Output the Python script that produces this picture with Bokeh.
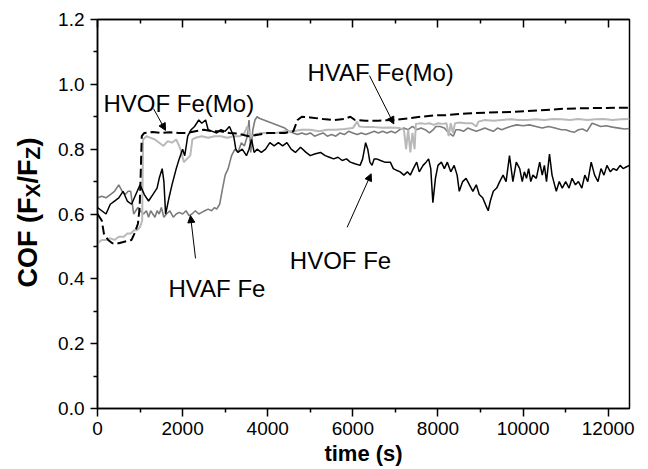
import numpy as np
from bokeh.plotting import figure
from bokeh.layouts import row
from bokeh.core.properties import value
from bokeh.models import (Range1d, LinearAxis, FixedTicker, NumeralTickFormatter,
                          Label, Arrow, NormalHead, CustomJSTickFormatter)
from bokeh.embed import file_html
from bokeh.resources import INLINE

# ---------------- data ----------------
hvof_fe_t = [0, 100, 200, 300, 400, 500, 600, 700, 800, 900, 1000, 1100, 1200, 1300, 1400, 1450, 1520, 1560,
             1600, 1680, 1750, 1850, 1920, 2000, 2050, 2120, 2200, 2280, 2380, 2450, 2540, 2600, 2700, 2800,
             2900, 3000, 3100, 3200, 3250, 3300, 3400, 3500, 3560, 3620, 3680, 3750, 3850, 3950, 4050, 4150,
             4250, 4350, 4450, 4550, 4650, 4770, 4900, 5000, 5100, 5240, 5350, 5450, 5550, 5650, 5750, 5850,
             5940, 6050, 6170, 6230, 6300, 6350, 6400, 6450, 6500, 6560, 6650, 6750, 6880, 6950, 7040, 7110,
             7200, 7280, 7350, 7420, 7500, 7560, 7650, 7720, 7780, 7830, 7880, 7940, 8000, 8080, 8150, 8220,
             8300, 8380, 8450, 8500, 8580, 8660, 8740, 8820, 8900, 8970, 9050, 9130, 9180, 9230, 9300, 9380,
             9450, 9530, 9600, 9680, 9730, 9760, 9840, 9920, 9980, 10030, 10080, 10130, 10180, 10230, 10310,
             10390, 10450, 10500, 10550, 10620, 10680, 10740, 10780, 10850, 10920, 11000, 11080, 11150, 11230,
             11300, 11380, 11450, 11520, 11600, 11680, 11760, 11830, 11900, 11970, 12050, 12120, 12200, 12280,
             12350, 12420, 12500]
hvof_fe_cof = [0.62, 0.61, 0.60, 0.63, 0.64, 0.65, 0.67, 0.64, 0.63, 0.66, 0.69, 0.66, 0.64, 0.66, 0.68, 0.71,
               0.74, 0.70, 0.60, 0.65, 0.69, 0.74, 0.77, 0.80, 0.78, 0.84, 0.86, 0.87, 0.89, 0.88, 0.89, 0.86,
               0.855, 0.85, 0.86, 0.855, 0.87, 0.84, 0.80, 0.79, 0.80, 0.78, 0.80, 0.83, 0.79, 0.80, 0.79, 0.80,
               0.82, 0.81, 0.82, 0.81, 0.82, 0.80, 0.79, 0.806, 0.79, 0.78, 0.785, 0.79, 0.78, 0.775, 0.77,
               0.775, 0.765, 0.77, 0.76, 0.755, 0.75, 0.77, 0.82, 0.80, 0.76, 0.75, 0.77, 0.77, 0.765, 0.76,
               0.76, 0.74, 0.734, 0.73, 0.72, 0.73, 0.72, 0.74, 0.76, 0.73, 0.75, 0.76, 0.77, 0.74, 0.635, 0.71,
               0.75, 0.76, 0.74, 0.76, 0.73, 0.75, 0.72, 0.67, 0.70, 0.71, 0.69, 0.67, 0.69, 0.66, 0.65, 0.625,
               0.61, 0.64, 0.67, 0.68, 0.70, 0.72, 0.70, 0.78, 0.73, 0.70, 0.76, 0.74, 0.70, 0.73, 0.71, 0.74,
               0.70, 0.72, 0.71, 0.76, 0.72, 0.75, 0.70, 0.785, 0.72, 0.69, 0.67, 0.70, 0.68, 0.70, 0.68, 0.71,
               0.69, 0.70, 0.68, 0.72, 0.70, 0.76, 0.72, 0.70, 0.74, 0.72, 0.75, 0.73, 0.74, 0.735, 0.75, 0.74,
               0.745, 0.75]

hvof_femo_t = [0, 100, 150, 250, 350, 500, 650, 800, 870, 950, 990, 1010, 1040, 1100, 1300, 1500, 1700, 1900,
               2100, 2300, 2500, 2700, 2900, 3100, 3300, 3550, 3800, 4000, 4200, 4400, 4600, 4700, 4800, 5000,
               5300, 5550, 5800, 5940, 6050, 6300, 6600, 6950, 7300, 7600, 7890, 8200, 8670, 9200, 9770, 10400,
               11020, 11700, 12500]
hvof_femo_cof = [0.60, 0.58, 0.54, 0.52, 0.51, 0.51, 0.515, 0.52, 0.54, 0.57, 0.62, 0.70, 0.84, 0.85, 0.853,
                 0.85, 0.852, 0.85, 0.85, 0.855, 0.86, 0.855, 0.855, 0.85, 0.848, 0.84, 0.845, 0.85, 0.85, 0.85,
                 0.855, 0.89, 0.90, 0.898, 0.893, 0.89, 0.893, 0.90, 0.89, 0.888, 0.888, 0.89, 0.895, 0.90,
                 0.904, 0.905, 0.91, 0.913, 0.915, 0.92, 0.925, 0.927, 0.928]

hvaf_femo_t = [0, 100, 200, 300, 400, 500, 620, 700, 780, 860, 930, 1000, 1050, 1070, 1150, 1250, 1350, 1450,
               1550, 1650, 1750, 1850, 1950, 2030, 2100, 2180, 2230, 2300, 2450, 2600, 2750, 2900, 3050, 3200,
               3350, 3450, 3520, 3580, 3700, 3850, 4000, 4200, 4400, 4600, 4800, 5000, 5200, 5400, 5600, 5800,
               6000, 6100, 6150, 6300, 6500, 6700, 6900, 7100, 7200, 7250, 7300, 7350, 7400, 7450, 7480, 7600,
               7700, 7800, 7900, 8000, 8100, 8200, 8250, 8300, 8350, 8400, 8500, 8650, 8800, 8900, 8950, 9100,
               9300, 9500, 9700, 9900, 10100, 10300, 10500, 10700, 10900, 11100, 11300, 11500, 11700, 11900,
               12100, 12300, 12500]
hvaf_femo_cof = [0.51, 0.52, 0.52, 0.525, 0.52, 0.53, 0.53, 0.54, 0.54, 0.55, 0.55, 0.56, 0.58, 0.83, 0.84,
                 0.835, 0.83, 0.82, 0.81, 0.825, 0.82, 0.83, 0.80, 0.76, 0.77, 0.78, 0.83, 0.835, 0.84, 0.835,
                 0.84, 0.84, 0.835, 0.84, 0.84, 0.85, 0.87, 0.84, 0.845, 0.85, 0.85, 0.85, 0.855, 0.855, 0.86,
                 0.86, 0.855, 0.86, 0.86, 0.862, 0.865, 0.885, 0.87, 0.868, 0.868, 0.866, 0.867, 0.865, 0.86,
                 0.80, 0.86, 0.79, 0.85, 0.80, 0.878, 0.88, 0.878, 0.88, 0.875, 0.88, 0.878, 0.88, 0.84, 0.88,
                 0.85, 0.88, 0.882, 0.88, 0.88, 0.87, 0.885, 0.89, 0.888, 0.89, 0.892, 0.89, 0.89, 0.892, 0.89,
                 0.893, 0.892, 0.89, 0.893, 0.89, 0.892, 0.893, 0.89, 0.892, 0.893]

hvaf_fe_t = [0, 100, 200, 300, 400, 500, 580, 650, 720, 780, 820, 850, 900, 950, 1000, 1080, 1150, 1200, 1250,
             1300, 1350, 1400, 1450, 1500, 1560, 1620, 1700, 1780, 1850, 1920, 2000, 2080, 2150, 2220, 2300,
             2380, 2450, 2520, 2600, 2680, 2750, 2800, 2870, 2940, 3000, 3070, 3150, 3230, 3300, 3380, 3450,
             3520, 3560, 3600, 3650, 3700, 3750, 3800, 4000, 4200, 4400, 4500, 4600, 4700, 4800, 4900, 5000,
             5100, 5200, 5300, 5400, 5500, 5600, 5700, 5800, 5900, 6000, 6100, 6200, 6300, 6400, 6500, 6600,
             6700, 6800, 6900, 7000, 7100, 7200, 7300, 7400, 7500, 7600, 7700, 7800, 7890, 7950, 8050, 8150,
             8250, 8360, 8420, 8500, 8600, 8700, 8800, 8900, 9000, 9100, 9200, 9300, 9400, 9500, 9600, 9700,
             9850, 10000, 10150, 10300, 10450, 10600, 10750, 10900, 11000, 11100, 11200, 11300, 11400, 11500,
             11620, 11720, 11820, 11950, 12100, 12250, 12380, 12500]
hvaf_fe_cof = [0.65, 0.655, 0.65, 0.66, 0.67, 0.69, 0.67, 0.66, 0.67, 0.67, 0.63, 0.60, 0.61, 0.62, 0.61, 0.60,
               0.61, 0.59, 0.61, 0.60, 0.59, 0.61, 0.60, 0.62, 0.59, 0.60, 0.61, 0.59, 0.60, 0.605, 0.60, 0.61,
               0.595, 0.60, 0.61, 0.60, 0.605, 0.61, 0.615, 0.61, 0.62, 0.615, 0.63, 0.68, 0.72, 0.74, 0.78,
               0.80, 0.79, 0.82, 0.81, 0.84, 0.89, 0.79, 0.86, 0.89, 0.90, 0.895, 0.885, 0.875, 0.865, 0.855,
               0.85, 0.845, 0.85, 0.845, 0.85, 0.84, 0.845, 0.85, 0.84, 0.845, 0.84, 0.85, 0.845, 0.855, 0.85,
               0.845, 0.85, 0.845, 0.85, 0.855, 0.85, 0.855, 0.85, 0.855, 0.85, 0.86, 0.865, 0.86, 0.87, 0.86,
               0.865, 0.86, 0.85, 0.86, 0.87, 0.87, 0.865, 0.85, 0.84, 0.86, 0.86, 0.855, 0.865, 0.86, 0.855,
               0.86, 0.865, 0.86, 0.855, 0.865, 0.86, 0.865, 0.87, 0.875, 0.872, 0.875, 0.87, 0.865, 0.87,
               0.865, 0.86, 0.86, 0.855, 0.852, 0.86, 0.862, 0.855, 0.88, 0.875, 0.87, 0.872, 0.868, 0.865,
               0.862, 0.864]

x_ticks = [0, 2000, 4000, 6000, 8000, 10000, 12000]
x_minor = [1000, 3000, 5000, 7000, 9000, 11000]
y_ticks = [0.0, 0.2, 0.4, 0.6, 0.8, 1.0, 1.2]
y_minor = [0.1, 0.3, 0.5, 0.7, 0.9, 1.1]

x_title = "time (s)"
# y title pieces: (text, is_subscript)
y_title_pieces = [("COF (F", False), ("X", True), ("/F", False), ("Z", True), (")", False)]

# annotation texts and anchors (data coords): text, x, baseline y
ann_texts = ["HVOF Fe(Mo)", "HVAF Fe(Mo)", "HVAF Fe", "HVOF Fe"]
ann_x = [141, 4934, 1668, 4519]
ann_y = [0.940, 1.036, 0.369, 0.457]
# arrows: start/end
arr_x0 = [1316, 6390, 2303, 5866]
arr_y0 = [0.925, 1.027, 0.463, 0.559]
arr_x1 = [1598, 6962, 2185, 6430]
arr_y1 = [0.858, 0.878, 0.595, 0.724]

# ---------------- layout ----------------
W, H = 648, 469
LW = 50                      # width of the strip holding the y title
FL, FR, FT, FB = 97, 629, 19, 408
X0, X1 = 0, 12500
Y0, Y1 = 0.0, 1.2
FONT = "Liberation Sans"

p = figure(width=W - LW, height=H, x_range=Range1d(X0, X1), y_range=Range1d(Y0, Y1),
           output_backend="svg", toolbar_location=None, title=None,
           x_axis_location=None, y_axis_location=None,
           min_border_left=FL - LW, min_border_right=W - FR, min_border_top=FT, min_border_bottom=H - FB)
p.grid.visible = False
p.outline_line_color = "black"
p.outline_line_width = 1.5
p.background_fill_color = "white"
p.border_fill_color = "white"

xb = LinearAxis(ticker=FixedTicker(ticks=x_ticks, minor_ticks=x_minor),
                major_tick_in=0, major_tick_out=8, minor_tick_in=0, minor_tick_out=4,
                major_label_text_font_size="19px", major_label_text_font=FONT,
                major_label_text_color="black", major_label_standoff=5,
                axis_label=x_title, axis_label_text_font=FONT, axis_label_text_font_size="22px",
                axis_label_text_font_style="bold", axis_label_text_color="black", axis_label_standoff=3,
                axis_line_width=1.5, major_tick_line_width=1.5, minor_tick_line_width=1.5)
p.add_layout(xb, "below")

xt = LinearAxis(ticker=FixedTicker(ticks=x_ticks, minor_ticks=x_minor),
                formatter=CustomJSTickFormatter(code="return ''"),
                major_tick_in=8, major_tick_out=0, minor_tick_in=4, minor_tick_out=0,
                major_label_text_font_size="1px", major_label_standoff=0,
                axis_line_width=1.5, major_tick_line_width=1.5, minor_tick_line_width=1.5)
p.add_layout(xt, "above")

yl = LinearAxis(ticker=FixedTicker(ticks=y_ticks, minor_ticks=y_minor),
                formatter=NumeralTickFormatter(format="0.0"),
                major_tick_in=0, major_tick_out=7, minor_tick_in=0, minor_tick_out=4,
                major_label_text_font_size="19px", major_label_text_font=FONT,
                major_label_text_color="black", major_label_standoff=6,
                axis_line_width=1.5, major_tick_line_width=1.5, minor_tick_line_width=1.5)
p.add_layout(yl, "left")

# ---------------- series ----------------
p.line(hvaf_fe_t, hvaf_fe_cof, line_color="#7c7c7c", line_width=1.6)
p.line(hvaf_femo_t, hvaf_femo_cof, line_color="#b9b9b9", line_width=2.0)
p.line(hvof_fe_t, hvof_fe_cof, line_color="black", line_width=1.5)
p.line(hvof_femo_t, hvof_femo_cof, line_color="black", line_width=2.0, line_dash="9 4")

# ---------------- annotations ----------------
for t, x, y in zip(ann_texts, ann_x, ann_y):
    p.add_layout(Label(x=x, y=y, text=t, text_font=FONT, text_font_size="24px",
                       text_color="black", text_baseline="alphabetic", text_align="left"))

for xs, ys, xe, ye in zip(arr_x0, arr_y0, arr_x1, arr_y1):
    p.add_layout(Arrow(x_start=xs, y_start=ys, x_end=xe, y_end=ye, line_width=1, line_color="black",
                       end=NormalHead(size=7, fill_color="black", line_color="black", line_width=1)))

# ---------------- y title strip ----------------
# In a row, Bokeh aligns this strip's frame with the main frame (rows FT..FB),
# so its y range is expressed in pixels counted from the canvas bottom over that span.
q = figure(width=LW, height=H, x_range=Range1d(0, LW), y_range=Range1d(H - FB, H - FT),
           output_backend="svg", toolbar_location=None, title=None,
           x_axis_location=None, y_axis_location=None,
           min_border=0, min_border_left=0, min_border_right=0, min_border_top=0, min_border_bottom=0)
q.grid.visible = False
q.outline_line_color = None
q.background_fill_color = "white"
q.border_fill_color = "white"

em = {"C": .722, "O": .778, "F": .611, " ": .278, "(": .333, "X": .667, "/": .278, "Z": .611, ")": .333}
main_fs, sub_fs = 27, 21
widths = [sum(em[c] for c in s) * (sub_fs if sub else main_fs) for s, sub in y_title_pieces]
total = sum(widths)
center_from_bottom = H - 212
cur = center_from_bottom - total / 2
mid_x = 27
for (s, sub), w in zip(y_title_pieces, widths):
    q.text(x=[mid_x + (5 if sub else 0)], y=[cur], text=[s], angle=np.pi / 2,
           text_font=value(FONT), text_font_size=value(f"{sub_fs if sub else main_fs}px"),
           text_font_style=value("bold"), text_align=value("left"), text_baseline=value("middle"),
           text_color="black")
    cur += w

layout = row(q, p, spacing=0)
open("out.html", "w").write(file_html(layout, INLINE))
